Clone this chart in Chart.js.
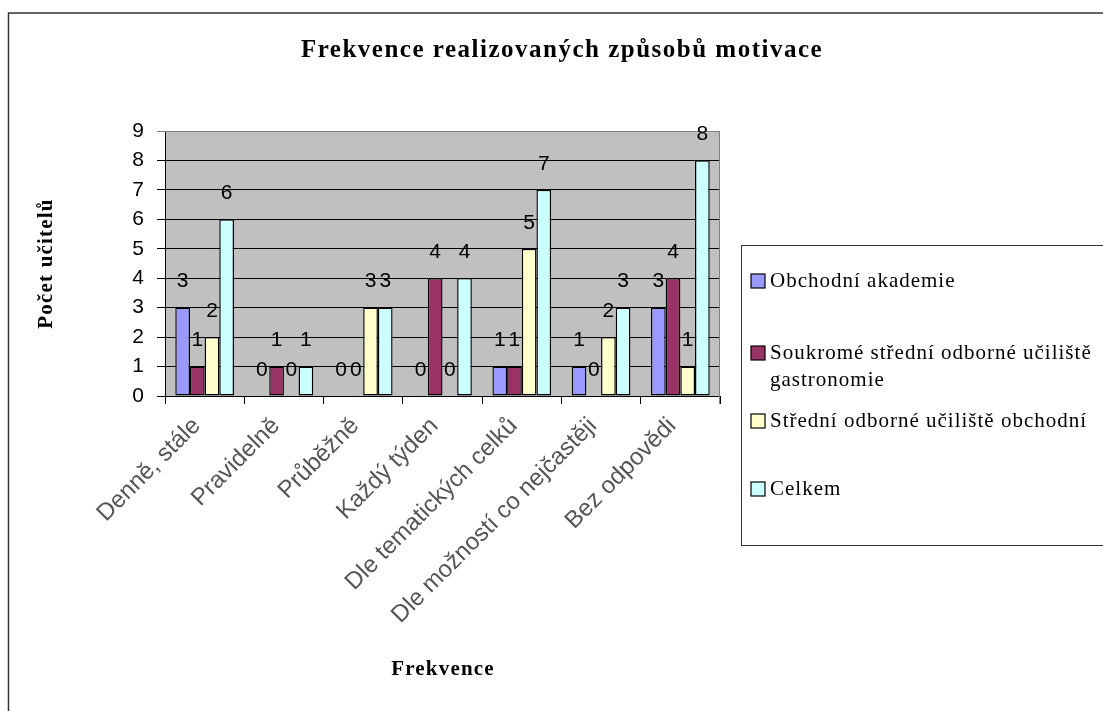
<!DOCTYPE html>
<html>
<head>
<meta charset="utf-8">
<script src="https://cdn.jsdelivr.net/npm/chart.js@4/dist/chart.umd.min.js"></script>
<style>
  html, body { margin: 0; padding: 0; background: #ffffff; }
  canvas { display: block; }
</style>
</head>
<body>
<canvas id="chart" width="1103" height="711"></canvas>
<script>
// Categories (how often motivation is applied)
const categories = [
  "Denně, stále",
  "Pravidelně",
  "Průběžně",
  "Každý týden",
  "Dle tematických celků",
  "Dle možností co nejčastěji",
  "Bez odpovědi"
];

// Series names
const seriesNames = [
  "Obchodní akademie",
  "Soukromé střední odborné učiliště gastronomie",
  "Střední odborné učiliště obchodní",
  "Celkem"
];

// Number of teachers per school
const obchodniAkademie = [3, 0, 0, 0, 1, 1, 3];
const soukromeSouGastronomie = [1, 1, 0, 4, 1, 0, 4];
const souObchodni = [2, 0, 3, 0, 5, 2, 1];
const celkem = [6, 1, 3, 4, 7, 3, 8];

// Value axis
const yMin = 0;
const yMax = 9;
const yStep = 1;

const chartTitle = "Frekvence realizovaných způsobů motivace";
const yAxisTitle = "Počet učitelů";
const xAxisTitle = "Frekvence";

const seriesColors = ["#9999FF", "#993366", "#FFFFCC", "#CCFFFF"];
const seriesValues = [obchodniAkademie, soukromeSouGastronomie, souObchodni, celkem];

// Layout constants (canvas pixels)
const PLOT = { left: 165, top: 131, right: 720, bottom: 396 };
const CANVAS_W = 1103, CANVAS_H = 711;
const SANS = "'Liberation Sans', Arial, sans-serif";
const SERIF = "'Liberation Serif', 'Times New Roman', serif";

// Plot background, frame, titles, value labels and legend
const decorations = {
  id: 'decorations',
  beforeDraw(chart) {
    const { ctx, chartArea: a } = chart;
    ctx.save();
    ctx.fillStyle = '#ffffff';
    ctx.fillRect(0, 0, CANVAS_W, CANVAS_H);
    ctx.fillStyle = '#C0C0C0';
    ctx.fillRect(a.left, a.top, a.right - a.left, a.bottom - a.top);
    // outer frame (left and top edges)
    ctx.strokeStyle = '#333333';
    ctx.lineWidth = 1.5;
    ctx.beginPath();
    ctx.moveTo(8.5, CANVAS_H);
    ctx.lineTo(8.5, 13);
    ctx.lineTo(CANVAS_W, 13);
    ctx.stroke();
    ctx.restore();
  },
  afterDraw(chart) {
    const { ctx, chartArea: a } = chart;
    ctx.save();
    // plot area right and top edge
    ctx.strokeStyle = '#808080';
    ctx.lineWidth = 1;
    ctx.beginPath();
    ctx.moveTo(a.left, a.top + 0.5);
    ctx.lineTo(a.right - 0.5, a.top + 0.5);
    ctx.lineTo(a.right - 0.5, a.bottom + 8);
    ctx.stroke();

    // chart title
    ctx.fillStyle = '#000000';
    ctx.font = `bold 25px ${SERIF}`;
    ctx.letterSpacing = '1.5px';
    ctx.textAlign = 'center';
    ctx.textBaseline = 'middle';
    ctx.fillText(chartTitle, 562, 51);

    // axis titles
    ctx.font = `bold 21px ${SERIF}`;
    ctx.letterSpacing = '1.2px';
    ctx.fillText(xAxisTitle, 443, 670);
    ctx.save();
    ctx.translate(47, (a.top + a.bottom) / 2);
    ctx.rotate(-Math.PI / 2);
    ctx.fillText(yAxisTitle, 0, 0);
    ctx.restore();
    ctx.letterSpacing = '0px';

    // value labels above bars
    ctx.font = `21px ${SANS}`;
    chart.data.datasets.forEach((ds, di) => {
      const meta = chart.getDatasetMeta(di);
      meta.data.forEach((bar, i) => {
        ctx.fillText(String(ds.data[i]), bar.x, bar.y - 26);
      });
    });

    // legend
    const box = { left: 741.5, top: 245.5, right: CANVAS_W + 2, bottom: 545.5 };
    ctx.strokeStyle = '#333333';
    ctx.lineWidth = 1;
    ctx.strokeRect(box.left, box.top, box.right - box.left, box.bottom - box.top);
    const rowY = [281, 353, 421, 489];
    const lineH = 27;
    ctx.font = `21px ${SERIF}`;
    ctx.letterSpacing = '1px';
    ctx.textAlign = 'left';
    const textX = 770;
    const maxTextW = 345;
    chart.data.datasets.forEach((ds, di) => {
      const y = rowY[di];
      ctx.fillStyle = ds.backgroundColor;
      ctx.fillRect(751, y - 7, 14, 14);
      ctx.strokeStyle = '#000000';
      ctx.lineWidth = 1.2;
      ctx.strokeRect(751, y - 7, 14, 14);
      // wrap label into lines
      const words = ds.label.split(' ');
      const lines = [];
      let cur = '';
      words.forEach(w => {
        const test = cur ? cur + ' ' + w : w;
        if (ctx.measureText(test).width > maxTextW && cur) { lines.push(cur); cur = w; }
        else cur = test;
      });
      lines.push(cur);
      ctx.fillStyle = '#000000';
      lines.forEach((ln, k) => ctx.fillText(ln, textX, y + k * lineH));
    });
    ctx.letterSpacing = '0px';
    ctx.restore();
  }
};

const datasets = seriesNames.map((name, i) => ({
  label: name,
  data: seriesValues[i],
  backgroundColor: seriesColors[i],
  borderColor: '#000000',
  borderWidth: 1.4,
  borderSkipped: false,
  categoryPercentage: 0.74,
  barPercentage: 1.0
}));

new Chart(document.getElementById('chart'), {
  type: 'bar',
  data: { labels: categories, datasets },
  options: {
    responsive: false,
    animation: false,
    events: [],
    layout: {
      padding: { left: 0, top: PLOT.top, right: CANVAS_W - PLOT.right, bottom: 0 }
    },
    plugins: {
      legend: { display: false },
      title: { display: false },
      tooltip: { enabled: false }
    },
    scales: {
      x: {
        afterFit(scale) { scale.height = CANVAS_H - PLOT.bottom; },
        grid: {
          display: true,
          drawOnChartArea: false,
          drawTicks: true,
          tickLength: 8,
          color: '#000000',
          offset: true
        },
        border: { display: true, color: '#000000', width: 1 },
        ticks: {
          autoSkip: false,
          minRotation: 45,
          maxRotation: 45,
          padding: 8,
          labelOffset: -8,
          color: '#555555',
          font: { family: SANS, size: 24 }
        }
      },
      y: {
        min: yMin,
        max: yMax,
        afterFit(scale) { scale.width = PLOT.left; },
        grid: {
          color: (c) => (c.tick && c.tick.value === yMax ? '#808080' : '#000000'),
          lineWidth: 1,
          drawTicks: true,
          tickLength: 8
        },
        border: { display: true, color: '#000000', width: 1 },
        ticks: {
          stepSize: yStep,
          padding: 13,
          color: '#000000',
          font: { family: SANS, size: 21 }
        }
      }
    }
  },
  plugins: [decorations]
});
</script>
</body>
</html>
